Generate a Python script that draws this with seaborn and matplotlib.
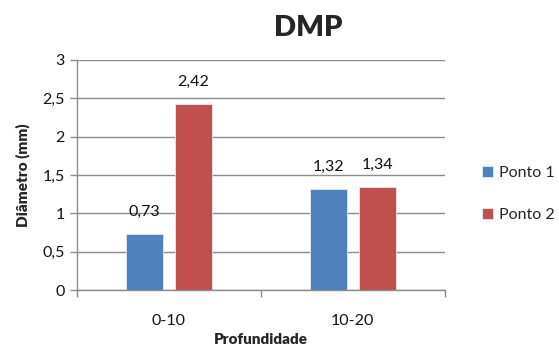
import matplotlib
matplotlib.use("Agg")
import matplotlib.pyplot as plt
import seaborn as sns
import pandas as pd

categories = ["0-10", "10-20"]
ponto1 = [0.73, 1.32]
ponto2 = [2.42, 1.34]
series_names = ["Ponto 1", "Ponto 2"]
y_ticks = [0, 0.5, 1, 1.5, 2, 2.5, 3]

sns.set_theme(style="white")
plt.rcParams['font.family'] = ['Lato', 'DejaVu Sans']

df = pd.DataFrame({
    "Profundidade": categories * 2,
    "valor": ponto1 + ponto2,
    "serie": [series_names[0]] * 2 + [series_names[1]] * 2,
})

fig = plt.figure(figsize=(5.59, 3.55), dpi=100)
ax = fig.add_axes([0.1377, 0.183, 0.658, 0.648])

sns.barplot(data=df, x="Profundidade", y="valor", hue="serie",
            palette=["#4F81BD", "#C0504D"], saturation=1, width=0.533, gap=0.25,
            edgecolor="#e4ebf4", linewidth=0.6, ax=ax, errorbar=None)

for cont in ax.containers:
    ax.bar_label(cont, labels=[f"{v:.2f}".replace(".", ",") for v in cont.datavalues],
                 padding=11, fontsize=11.5, color="#111111")

ax.set_xlim(-0.5, 1.5)
ax.set_ylim(0, 3)
ax.set_yticks(y_ticks)
ax.set_yticklabels([str(t).replace(".", ",").rstrip("0").rstrip(",") if t != 0 else "0" for t in y_ticks])
ax.yaxis.grid(True, color="#8c8c8c", linewidth=1)
ax.set_axisbelow(True)
ax.set_xticks([0, 1])
ax.set_xticklabels(categories)
ax.set_xticks([-0.5, 0.5, 1.5], minor=True)
ax.tick_params(axis="x", which="major", length=0, pad=17, labelsize=11.5, colors="#111111")
ax.tick_params(axis="x", which="minor", length=5, width=1, color="#8c8c8c", direction="out", bottom=True)
ax.tick_params(axis="y", length=5, width=1, color="#8c8c8c", direction="out", left=True, labelsize=11.5, colors="#111111", pad=4)

for s in ["top", "right"]:
    ax.spines[s].set_visible(False)
for s in ["left", "bottom"]:
    ax.spines[s].set_color("#8c8c8c")
    ax.spines[s].set_linewidth(1)

ax.set_xlabel("Profundidade", fontsize=11, fontweight="heavy", labelpad=4)
ax.set_ylabel("Diâmetro (mm)", fontsize=11, fontweight="heavy", labelpad=9)
fig.text(0.552, 0.92, "DMP", ha="center", va="center", fontsize=21, fontweight="heavy")

leg = ax.legend(loc="center left", bbox_to_anchor=(1.0, 0.417), frameon=False,
                fontsize=11.5, handlelength=0.7, handleheight=0.7, handletextpad=0.4,
                labelspacing=1.75, borderaxespad=1.9)

fig.savefig("out.png", dpi=100)
